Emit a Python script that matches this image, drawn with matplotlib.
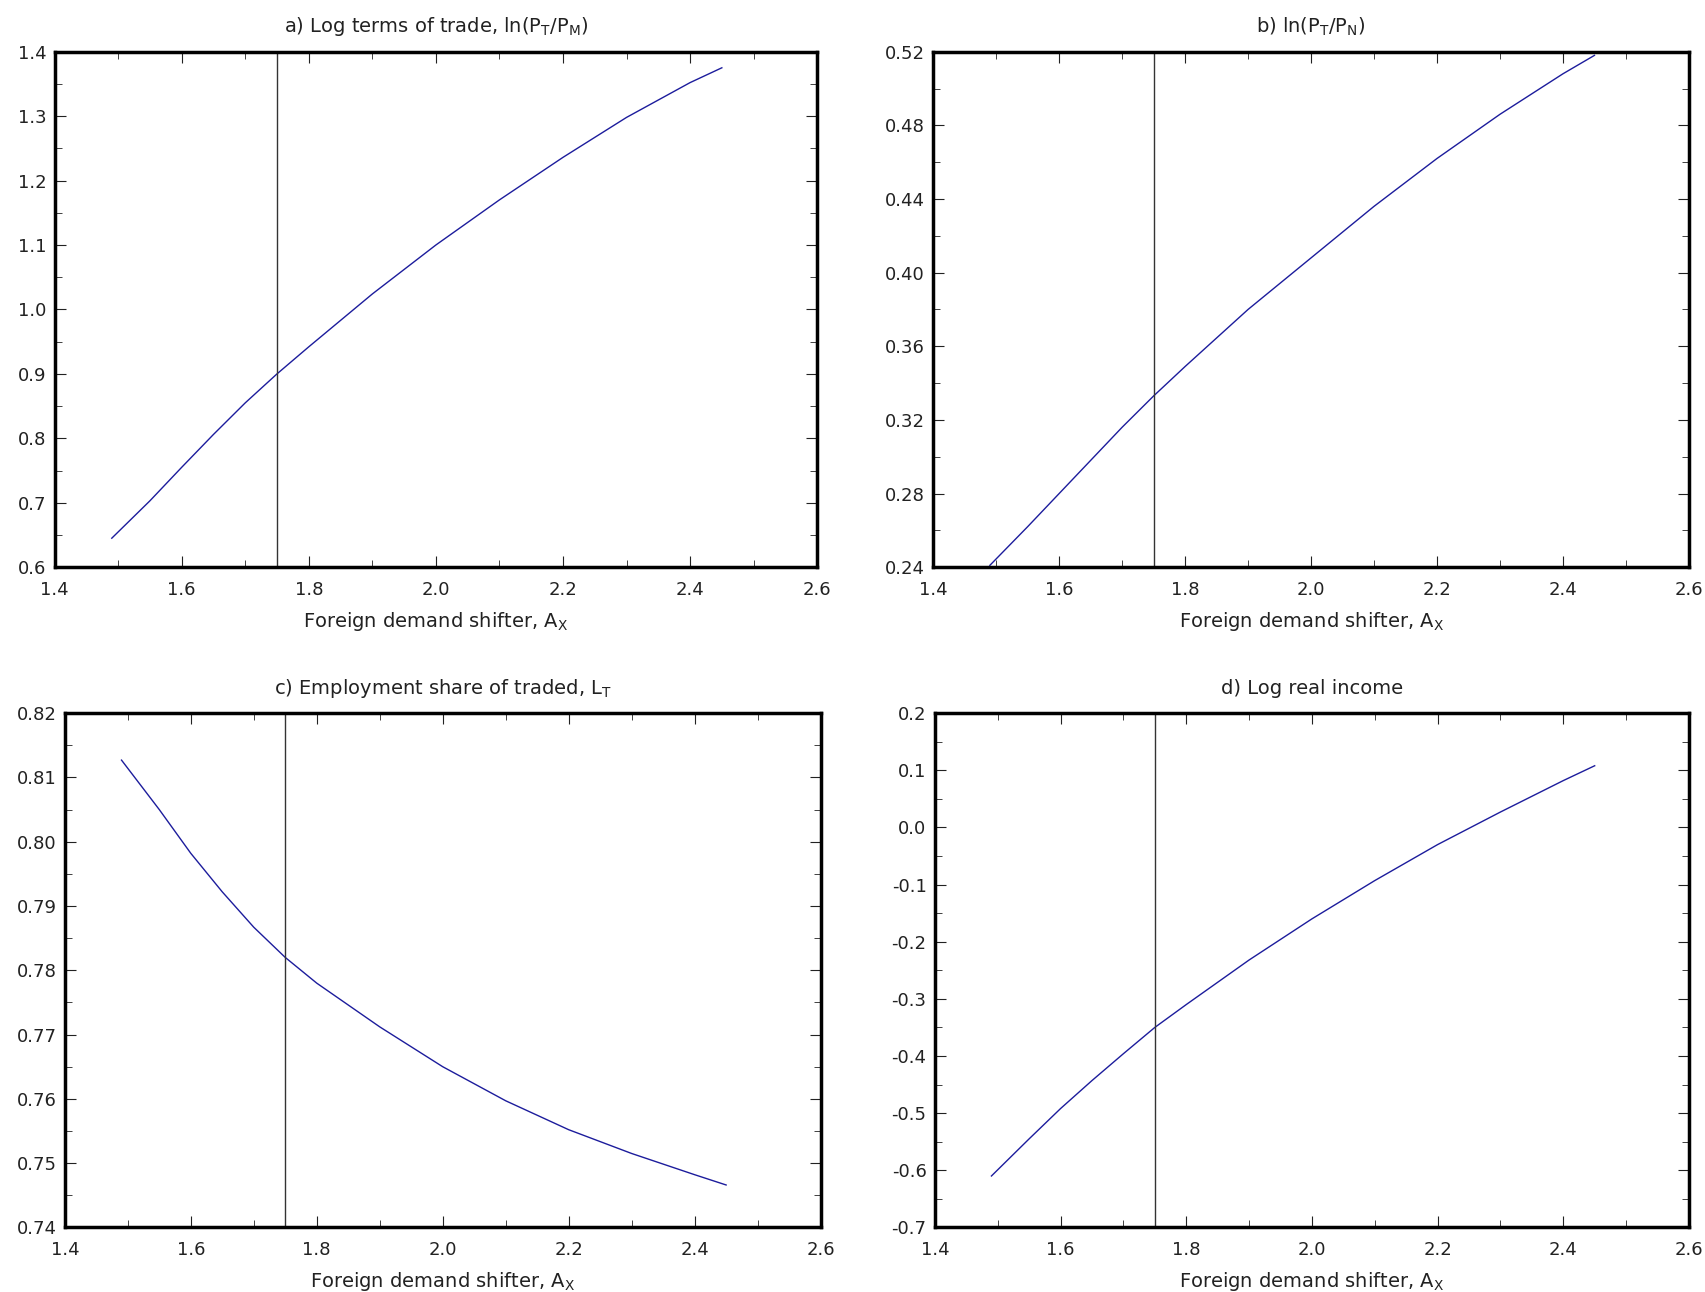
import matplotlib
matplotlib.use("Agg")
import matplotlib.pyplot as plt
from matplotlib.ticker import MultipleLocator, AutoMinorLocator

plt.rcParams["mathtext.default"] = "regular"
plt.rcParams["axes.unicode_minus"] = True

ax_x = [1.49, 1.55, 1.6, 1.65, 1.7, 1.75, 1.8, 1.9, 2.0, 2.1, 2.2, 2.3, 2.4, 2.45]
tot = [0.645, 0.703, 0.755, 0.806, 0.855, 0.900, 0.942, 1.024, 1.100, 1.170, 1.236, 1.298, 1.352, 1.375]
ptpn = [0.241, 0.262, 0.280, 0.298, 0.316, 0.333, 0.349, 0.380, 0.408, 0.436, 0.462, 0.486, 0.508, 0.518]
lt = [0.8127, 0.8050, 0.7982, 0.7922, 0.7867, 0.7820, 0.7780, 0.7712, 0.7650, 0.7597, 0.7552, 0.7515, 0.7482, 0.7466]
inc = [-0.610, -0.545, -0.492, -0.443, -0.396, -0.350, -0.310, -0.232, -0.160, -0.093, -0.030, 0.027, 0.082, 0.108]
x_star = 1.75

panels = [
    (tot, r"a) Log terms of trade, ln(P$_T$/P$_M$)", (0.6, 1.4), 0.1, "%.1f", [0.032, 0.561, 0.447, 0.399]),
    (ptpn, r"b) ln(P$_T$/P$_N$)", (0.24, 0.52), 0.04, "%.2f", [0.547, 0.561, 0.443, 0.399]),
    (lt, r"c) Employment share of traded, L$_T$", (0.74, 0.82), 0.01, "%.2f", [0.038, 0.050, 0.443, 0.398]),
    (inc, "d) Log real income", (-0.7, 0.2), 0.1, "%.1f", [0.548, 0.050, 0.442, 0.398]),
]

fig = plt.figure(figsize=(17.06, 12.92), dpi=100)
for y, title, ylim, step, fmt, rect in panels:
    ax = fig.add_axes(rect)
    ax.plot(ax_x, y, color="#1c1c9c", lw=1.0)
    ax.axvline(x_star, color="#333333", lw=1.0)
    ax.set_xlim(1.4, 2.6)
    ax.set_ylim(*ylim)
    ax.xaxis.set_major_locator(MultipleLocator(0.2))
    ax.yaxis.set_major_locator(MultipleLocator(step))
    ax.xaxis.set_minor_locator(AutoMinorLocator(2))
    ax.yaxis.set_minor_locator(AutoMinorLocator(2))
    ax.yaxis.set_major_formatter(plt.FormatStrFormatter(fmt))
    ax.xaxis.set_major_formatter(plt.FormatStrFormatter("%.1f"))
    ax.tick_params(which="both", direction="in", top=True, right=True, labelsize=13, colors="#222222")
    ax.tick_params(which="major", length=8)
    ax.tick_params(which="minor", length=5)
    ax.tick_params(axis="x", pad=10)
    ax.tick_params(axis="y", pad=6)
    for s in ax.spines.values():
        s.set_linewidth(2.5)
    ax.set_title(title, fontsize=14, color="#222222", pad=14)
    ax.set_xlabel(r"Foreign demand shifter, A$_X$", fontsize=14, color="#222222", labelpad=8)

fig.savefig("out.png", dpi=100, facecolor="white")
